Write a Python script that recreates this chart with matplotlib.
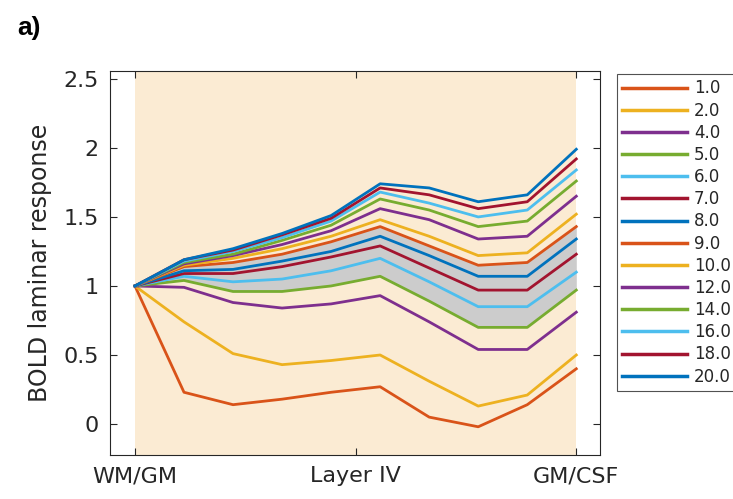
import numpy as np
import matplotlib.pyplot as plt

# cortical depth samples, white matter -> pial surface
depth = np.arange(10)
tick_pos = [0, 4.5, 9]
tick_labels = ['WM/GM', 'Layer IV', 'GM/CSF']

labels = ['1.0', '2.0', '4.0', '5.0', '6.0', '7.0', '8.0',
          '9.0', '10.0', '12.0', '14.0', '16.0', '18.0', '20.0']

# BOLD laminar profiles (normalised to WM/GM)
bold_1 = [1.0, 0.23, 0.14, 0.18, 0.23, 0.27, 0.05, -0.02, 0.14, 0.40]
bold_2 = [1.0, 0.74, 0.51, 0.43, 0.46, 0.50, 0.31, 0.13, 0.21, 0.50]
bold_4 = [1.0, 0.99, 0.88, 0.84, 0.87, 0.93, 0.74, 0.54, 0.54, 0.81]
bold_5 = [1.0, 1.04, 0.96, 0.96, 1.00, 1.07, 0.89, 0.70, 0.70, 0.97]
bold_6 = [1.0, 1.07, 1.03, 1.05, 1.11, 1.20, 1.03, 0.85, 0.85, 1.10]
bold_7 = [1.0, 1.09, 1.09, 1.14, 1.21, 1.29, 1.13, 0.97, 0.97, 1.23]
bold_8 = [1.0, 1.11, 1.12, 1.18, 1.25, 1.36, 1.22, 1.07, 1.07, 1.34]
bold_9 = [1.0, 1.14, 1.17, 1.23, 1.32, 1.43, 1.29, 1.15, 1.17, 1.43]
bold_10 = [1.0, 1.15, 1.20, 1.27, 1.36, 1.48, 1.36, 1.22, 1.24, 1.52]
bold_12 = [1.0, 1.16, 1.22, 1.30, 1.40, 1.56, 1.48, 1.34, 1.36, 1.65]
bold_14 = [1.0, 1.17, 1.23, 1.33, 1.44, 1.63, 1.55, 1.43, 1.47, 1.76]
bold_16 = [1.0, 1.18, 1.25, 1.35, 1.47, 1.68, 1.60, 1.50, 1.55, 1.84]
bold_18 = [1.0, 1.19, 1.26, 1.37, 1.49, 1.71, 1.66, 1.56, 1.61, 1.92]
bold_20 = [1.0, 1.19, 1.27, 1.38, 1.51, 1.74, 1.71, 1.61, 1.66, 1.99]

profiles = [bold_1, bold_2, bold_4, bold_5, bold_6, bold_7, bold_8,
            bold_9, bold_10, bold_12, bold_14, bold_16, bold_18, bold_20]

# MATLAB default line colours, starting from the second one
colors = ['#D95319', '#EDB120', '#7E2F8E', '#77AC30', '#4DBEEE', '#A2142F', '#0072BD']

fig = plt.figure(figsize=(7.33, 4.99), dpi=100)
ax = fig.add_axes([0.150, 0.088, 0.669, 0.770])

ax.axvspan(depth[0], depth[-1], color='#FBEBD3', zorder=0, lw=0)
ax.fill_between(depth, bold_5, bold_9, color='#CCCCCC', zorder=1, lw=0)

for i, (lab, prof) in enumerate(zip(labels, profiles)):
    ax.plot(depth, prof, color=colors[i % len(colors)], lw=2.0, label=lab, zorder=2)

ax.set_xlim(-0.51, 9.49)
ax.set_ylim(-0.225, 2.558)
ax.set_xticks(tick_pos)
ax.set_xticklabels(tick_labels)
ax.set_yticks([0, 0.5, 1, 1.5, 2, 2.5])
ax.set_yticklabels(['0', '0.5', '1', '1.5', '2', '2.5'])
ax.tick_params(direction='in', top=True, right=True, labelsize=16,
               length=5, width=0.8, colors='#262626', pad=8)
for sp in ax.spines.values():
    sp.set_color('#262626')
    sp.set_linewidth(0.8)

ax.set_ylabel('BOLD laminar response', fontsize=17, color='#262626', labelpad=8)

leg = fig.legend(loc='upper left', bbox_to_anchor=(0.842, 0.851), fontsize=12,
                 handlelength=3.9, handletextpad=0.4, labelspacing=0.25,
                 borderpad=0.3, borderaxespad=0, frameon=True, fancybox=False)
leg.get_frame().set_edgecolor('#262626')
leg.get_frame().set_linewidth(0.8)
for t in leg.get_texts():
    t.set_color('#262626')
for h in leg.get_lines():
    h.set_linewidth(2.5)

fig.text(0.024, 0.968, 'a)', fontsize=19, fontweight='bold',
         family='Liberation Sans', va='top')

fig.savefig('out.png', dpi=100)
